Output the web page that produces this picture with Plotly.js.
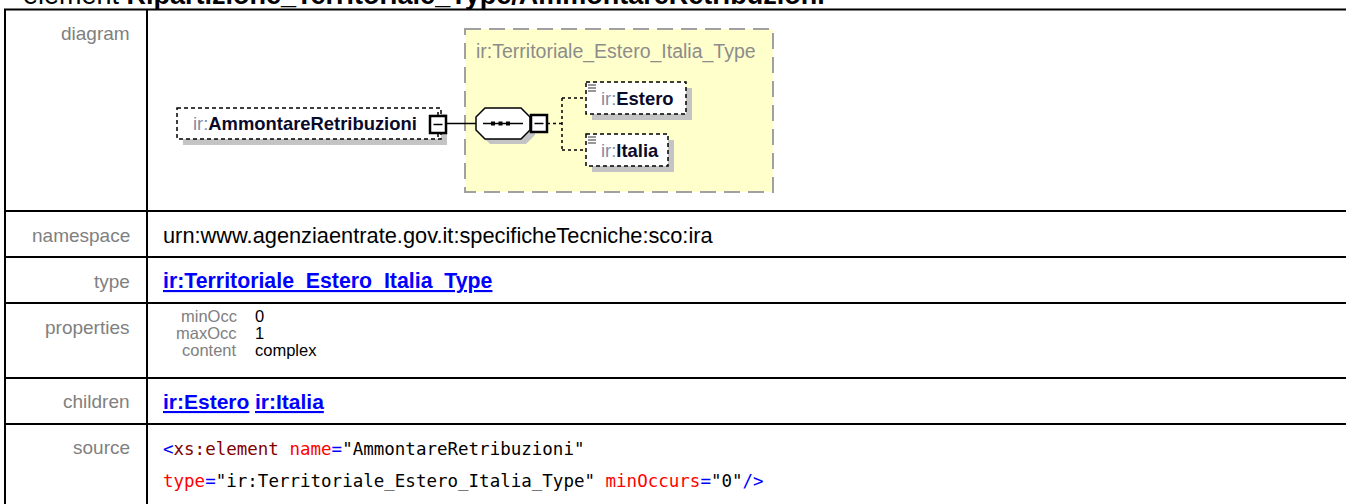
<!DOCTYPE html>
<html>
<head>
<meta charset="utf-8">
<script src="https://cdn.plot.ly/plotly-3.0.1.min.js"></script>
<style>html,body{margin:0;padding:0;background:#fff;overflow:hidden}#chart{width:1346px;height:504px}</style>
</head>
<body>
<div id="chart"></div>
<script>
// ---- content (texts) ----
const titlePrefix = 'element';
const titleName = 'Ripartizione_Territoriale_Type/AmmontareRetribuzioni';
const rowLabels = ['diagram', 'namespace', 'type', 'properties', 'children', 'source'];
const namespaceText = 'urn:www.agenziaentrate.gov.it:specificheTecniche:sco:ira';
const typeLink = 'ir:Territoriale_Estero_Italia_Type';
const propNames = ['minOcc', 'maxOcc', 'content'];
const propValues = ['0', '1', 'complex'];
const childLinks = ['ir:Estero', 'ir:Italia'];
const nsPrefix = 'ir:';
const rootElement = 'AmmontareRetribuzioni';
const childElements = ['Estero', 'Italia'];
const diagramTypeLabel = 'ir:Territoriale_Estero_Italia_Type';
// source tokens: [text, colour]
const sourceLine1 = [['&lt;', '#0000ff'], ['xs:element', '#800000'], [' ', '#000'], ['name', '#ff0000'], ['=', '#0000ff'], ['"AmmontareRetribuzioni"', '#000000']];
const sourceLine2 = [['type', '#ff0000'], ['=', '#0000ff'], ['"ir:Territoriale_Estero_Italia_Type"', '#000000'], [' ', '#000'], ['minOccurs', '#ff0000'], ['=', '#0000ff'], ['"0"', '#000000'], ['/&gt;', '#0000ff']];

// ---- layout geometry (pixels) ----
const W = 1346, H = 504;
const tableLeft = 5, colSep = 147;
const rowLines = [9.5, 211, 257, 303, 378, 424];
const labelYs = [33, 235, 281, 327, 401, 447];
const labelRight = 131, contentX = 162;
const propY = [316, 333, 349.5];
const propNameRight = 238, propValueX = 254;
const childX = [162, 254];
const sourceY = [449, 481];

const F = 'Liberation Sans, Arial, sans-serif';
const MONO = 'DejaVu Sans Mono, Liberation Mono, monospace';
const GRAY = '#808080';

const shapes = [];
const ann = [];
function line(x0, y0, x1, y1, color, width, dash) {
  shapes.push({type: 'line', xref: 'x', yref: 'y', x0, y0, x1, y1, line: {color, width, dash: dash || 'solid'}});
}
function rect(x0, y0, x1, y1, fill, color, width, dash) {
  shapes.push({type: 'rect', xref: 'x', yref: 'y', x0, y0, x1, y1, fillcolor: fill, line: {color: color || 'rgba(0,0,0,0)', width: width || 0, dash: dash || 'solid'}});
}
function path(p, fill, color, width) {
  shapes.push({type: 'path', xref: 'x', yref: 'y', path: p, fillcolor: fill, line: {color: color || 'rgba(0,0,0,0)', width: width || 0}});
}
function text(x, y, t, size, color, xanchor, yanchor, family) {
  ann.push({x, y, xref: 'x', yref: 'y', text: t, showarrow: false, xanchor: xanchor || 'left', yanchor: yanchor || 'middle',
    font: {family: family || F, size, color}, borderpad: 0});
}

// ---- title (mostly cropped at top, as in the reference) ----
text(22, 11.5, titlePrefix + ' <b>' + titleName + '</b>', 27, '#000', 'left', 'bottom');

// ---- table grid ----
rowLines.forEach(y => line(tableLeft - 1, y, W + 5, y, '#000', 2));
line(tableLeft, rowLines[0], tableLeft, H + 5, '#000', 2);
line(colSep, rowLines[0], colSep, H + 5, '#000', 2);

// ---- row labels ----
rowLabels.forEach((l, i) => text(labelRight, labelYs[i], l, 19, GRAY, 'right', 'middle'));

// ---- namespace / type ----
text(contentX, labelYs[1], namespaceText, 21.8, '#000');
text(contentX, labelYs[2], '<b><span style="text-decoration:underline">' + typeLink + '</span></b>', 21.3, '#0000ff');

// ---- properties ----
propNames.forEach((n, i) => text(propNameRight, propY[i], n, 16.5, GRAY, 'right'));
propValues.forEach((v, i) => text(propValueX, propY[i], v, 16.5, '#000'));

// ---- children ----
childLinks.forEach((c, i) => text(childX[i], labelYs[4], '<b><span style="text-decoration:underline">' + c + '</span></b>', 21, '#0000ff'));

// ---- source ----
function tok(arr) { return arr.map(t => '<span style="color:' + t[1] + '">' + t[0] + '</span>').join(''); }
text(contentX, sourceY[0], tok(sourceLine1), 17.5, '#000', 'left', 'middle', MONO);
text(contentX, sourceY[1], tok(sourceLine2), 17.5, '#000', 'left', 'middle', MONO);

// ---- diagram ----
const typeBox = [465, 29, 773, 192];
rect(typeBox[0], typeBox[1], typeBox[2], typeBox[3], '#ffffcc', '#a0a0a0', 2, '16px,8px');
text(475, 51, diagramTypeLabel, 19.5, '#8c8c8c');

const SH = 6, SHC = '#c4c4c4';
// root element
const rootBox = [177, 108, 441, 139];
rect(rootBox[0] + SH, rootBox[1] + SH, rootBox[2] + SH, rootBox[3] + SH, SHC);
rect(rootBox[0], rootBox[1], rootBox[2], rootBox[3], '#fff', '#000', 1.5, '4px,3px');
text(192, 123.5, '<span style="color:#7f8ca3">' + nsPrefix + '</span><b>' + rootElement + '</b>', 18.4, '#0a0a2a');
// collapse box on root
line(438, 112, 438, 137, '#000', 1.5);
rect(430, 116, 446, 133, '#fff', '#000', 2.5);
line(433.5, 124.5, 442.5, 124.5, '#000', 1.5);
// connector
line(446, 123.5, 477, 123.5, '#000', 1.5);
// sequence octagon
function oct(x0, y0, x1, y1, c) {
  return 'M' + (x0 + c) + ',' + y0 + ' L' + (x1 - c) + ',' + y0 + ' L' + x1 + ',' + (y0 + c) + ' L' + x1 + ',' + (y1 - c) +
    ' L' + (x1 - c) + ',' + y1 + ' L' + (x0 + c) + ',' + y1 + ' L' + x0 + ',' + (y1 - c) + ' L' + x0 + ',' + (y0 + c) + ' Z';
}
path(oct(481, 113, 535, 144, 9), SHC);
path(oct(476, 108, 530, 139, 9), '#fff', '#000', 1.5);
line(483, 123.5, 523, 123.5, '#000', 1.5);
[493, 500.5, 508].forEach(x => rect(x - 2, 121.5, x + 2, 125.5, '#000'));
// collapse box on sequence
rect(531, 115, 547, 132, '#fff', '#000', 2.5);
line(534.5, 123.5, 543.5, 123.5, '#000', 1.5);
// dashed connectors to children
line(547, 123.5, 562, 123.5, '#000', 1.5, '3px,3px');
line(562, 98, 562, 150, '#000', 1.5, '3px,3px');
const childBoxes = [[586, 82, 686, 114], [586, 134, 668, 166]];
const childTextY = [98.5, 150.5];
childBoxes.forEach((b, i) => {
  line(562, childTextY[i] - 0.5, b[0], childTextY[i] - 0.5, '#000', 1.5, '3px,3px');
  rect(b[0] + SH, b[1] + SH, b[2] + SH, b[3] + SH, SHC);
  rect(b[0], b[1], b[2], b[3], '#fff', '#000', 1.5, '4px,3px');
  [3, 6, 9].forEach(d => line(b[0] + 2, b[1] + d, b[0] + 10, b[1] + d, '#333', 1));
  text(600, childTextY[i], '<span style="color:#7f8ca3">' + nsPrefix + '</span><b>' + childElements[i] + '</b>', 18.4, '#0a0a2a');
});

const layout = {
  width: W, height: H,
  margin: {l: 0, r: 0, t: 0, b: 0, pad: 0},
  paper_bgcolor: '#fff', plot_bgcolor: '#fff',
  showlegend: false,
  xaxis: {range: [0, W], visible: false, fixedrange: true},
  yaxis: {range: [H, 0], visible: false, fixedrange: true},
  shapes: shapes,
  annotations: ann
};
Plotly.newPlot('chart', [], layout, {staticPlot: true, displayModeBar: false});
</script>
</body>
</html>
